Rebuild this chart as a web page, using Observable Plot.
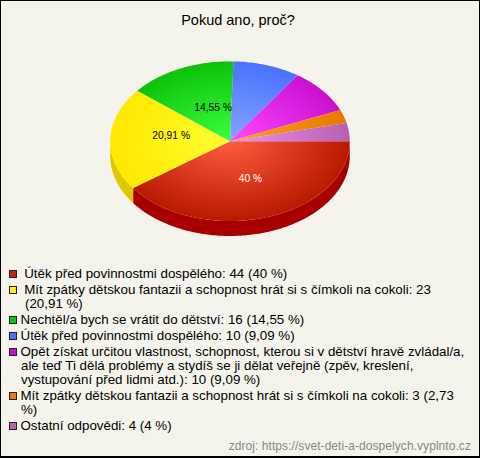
<!DOCTYPE html>
<html><head><meta charset="utf-8">
<script src="https://cdn.jsdelivr.net/npm/d3@7"></script>
<script src="https://cdn.jsdelivr.net/npm/@observablehq/plot@0.6"></script>
<style>
html,body{margin:0;padding:0;background:#f5f4ec;}
#frame{box-sizing:border-box;width:480px;height:458px;border:1px solid #000;border-width:1px 1px 2px 1px;background:#f5f4ec;font-family:"Liberation Sans",Arial,sans-serif;color:#111;position:relative;overflow:hidden;}
#title{position:absolute;left:0;top:10px;width:474px;text-align:center;font-size:14.5px;line-height:18px;color:#000;}
#chart{position:absolute;left:-1px;top:-1px;}
#legend{position:absolute;left:8px;top:266px;width:462px;font-size:13.33px;line-height:14px;color:#000;}
#legend div{margin-bottom:2px;padding-left:12px;text-indent:-12px;}
#legend div.lead{padding-left:16px;text-indent:-16px;}
#legend i{display:inline-block;text-indent:0;width:6px;height:6px;border:1px solid #222;margin-right:3.5px;vertical-align:0;}
#source{position:absolute;right:8px;top:438px;font-size:12px;letter-spacing:.06px;line-height:14px;color:#888;}
</style></head><body>
<div id="frame"><div id="title"></div><div id="chart"></div><div id="legend"></div><div id="source"></div></div>
<script>
const chartTitle = "Pokud ano, proč?";
const sourceText = "zdroj: https://svet-deti-a-dospelych.vyplnto.cz";
const categories = [
  "Útěk před povinnostmi dospělého",
  "Mít zpátky dětskou fantazii a schopnost hrát si s čímkoli na cokoli",
  "Nechtěl/a bych se vrátit do dětství",
  "Útěk před povinnostmi dospělého",
  "Opět získat určitou vlastnost, schopnost, kterou si v dětství hravě zvládal/a, ale teď Ti dělá problémy a stydíš se ji dělat veřejně (zpěv, kreslení, vystupování před lidmi atd.)",
  "Mít zpátky dětskou fantazii a schopnost hrát si s čímkoli na cokoli",
  "Ostatní odpovědi"
];
const counts = [44, 23, 16, 10, 10, 3, 4];
const percents = ["40 %", "20,91 %", "14,55 %", "9,09 %", "9,09 %", "2,73 %", "4 %"];
const leadingSpace = [true, true, false, false, false, false, false];
const innerColors = ["#ff5c3e", "#ffff30", "#3cff3c", "#82a6ff", "#ff48ff", "#ffa020", "#ea94ea"];
const rimColors = ["#b81a00", "#ffe800", "#0cc20c", "#4a72ff", "#c810d0", "#e87800", "#b860b0"];
const sideColors = ["#a80000", "#e0c800", "#0a9a0a", "#3a5ad0", "#a000a8", "#c06000", "#905090"];
const swatchColors = ["#c8200a", "#ffee00", "#10c010", "#4a72ff", "#cc10d0", "#ee7c00", "#c060b0"];

const W = 480, H = 458, cx = 230, cy = 141, rx = 120, ry = 80, depth = 15;
const pie = d3.pie().sort(null).value(d => d.count).startAngle(Math.PI / 2).endAngle(Math.PI * 2.5);
const rows = categories.map((name, i) => ({i, name, count: counts[i], percent: percents[i]}));
const arcs = pie(rows);

// top face polygons and rim polygons, in units of the pie's radius
const facePts = [], sidePts = [];
arcs.forEach(a => {
  const n = Math.max(4, Math.ceil((a.endAngle - a.startAngle) * 60));
  facePts.push({k: a.data.i, px: 0, py: 0});
  for (let j = 0; j <= n; j++) {
    const t = a.startAngle + (a.endAngle - a.startAngle) * j / n;
    facePts.push({k: a.data.i, px: Math.sin(t), py: -Math.cos(t)});
  }
  facePts.push({k: a.data.i, px: 0, py: 0});
  const lo = Math.max(a.startAngle, Math.PI / 2), hi = Math.min(a.endAngle, Math.PI * 1.5);
  if (hi > lo) {
    const pts = [];
    for (let j = 0; j <= n; j++) {
      const t = lo + (hi - lo) * j / n;
      pts.push({k: a.data.i, px: Math.sin(t), py: -Math.cos(t), d: 1});
    }
    sidePts.push(...pts, ...pts.slice().reverse().map(p => ({...p, d: 0})));
  }
});
const labelRows = arcs.map(a => {
  const t = (a.startAngle + a.endAngle) / 2;
  return {i: a.data.i, text: a.data.percent, px: Math.sin(t) * 0.5, py: -Math.cos(t) * 0.5};
});

const defsMark = (index, {x, y}) => {
  const ns = "http://www.w3.org/2000/svg";
  const d = document.createElementNS(ns, "defs");
  innerColors.forEach((c, i) => {
    const g = document.createElementNS(ns, "radialGradient");
    g.setAttribute("id", "slice" + i);
    g.setAttribute("gradientUnits", "userSpaceOnUse");
    g.setAttribute("cx", 0); g.setAttribute("cy", 0); g.setAttribute("r", 1);
    g.setAttribute("gradientTransform", `translate(${x(0)} ${y(0)}) scale(${x(1) - x(0)} ${y(1) - y(0)})`);
    [[0, c], [1, rimColors[i]]].forEach(([o, col]) => {
      const s = document.createElementNS(ns, "stop");
      s.setAttribute("offset", o); s.setAttribute("stop-color", col);
      g.appendChild(s);
    });
    d.appendChild(g);
  });
  return d;
};

const textMark = (i, color, dx, dy) => Plot.text(labelRows.filter(d => d.i === i), {
  x: "px", y: "py", text: "text", fill: color, dx, dy,
  fontSize: 10.3, fontFamily: "Liberation Sans, Arial, sans-serif"
});

const chart = Plot.plot({
  width: W, height: H, margin: 0,
  style: {background: "transparent", overflow: "visible"},
  x: {domain: [-1, 1], range: [cx - rx, cx + rx], axis: null},
  y: {domain: [-1, 1], range: [cy - ry, cy + ry], axis: null},
  color: {type: "identity"},
  marks: [
    defsMark,
    Plot.line(sidePts, {
      x: "px", y: "py", z: "k", fill: d => sideColors[d.k], stroke: null, curve: "linear",
      render(index, scales, values, dims, ctx, next) {
        return next(index, scales, {...values, y: Float64Array.from(values.y, (v, i) => v + (sidePts[i].d ? depth : 0))}, dims, ctx);
      }
    }),
    Plot.line(facePts, {x: "px", y: "py", z: "k", fill: d => `url(#slice${d.k})`, stroke: null, curve: "linear"}),
    textMark(0, "#fff", 2, 0),
    textMark(1, "#000", 1, -4),
    textMark(2, "#000", 8, 3)
  ]
});
document.getElementById("chart").appendChild(chart);
document.getElementById("title").textContent = chartTitle;
document.getElementById("source").textContent = sourceText;
const legend = document.getElementById("legend");
rows.forEach((r, i) => {
  const row = document.createElement("div");
  if (leadingSpace[i]) row.className = "lead";
  const sw = document.createElement("i");
  sw.style.background = swatchColors[i];
  row.appendChild(sw);
  row.appendChild(document.createTextNode((leadingSpace[i] ? "\u00a0" : "") + `${r.name}: ${r.count} (${r.percent})`));
  legend.appendChild(row);
});
</script>
</body></html>
